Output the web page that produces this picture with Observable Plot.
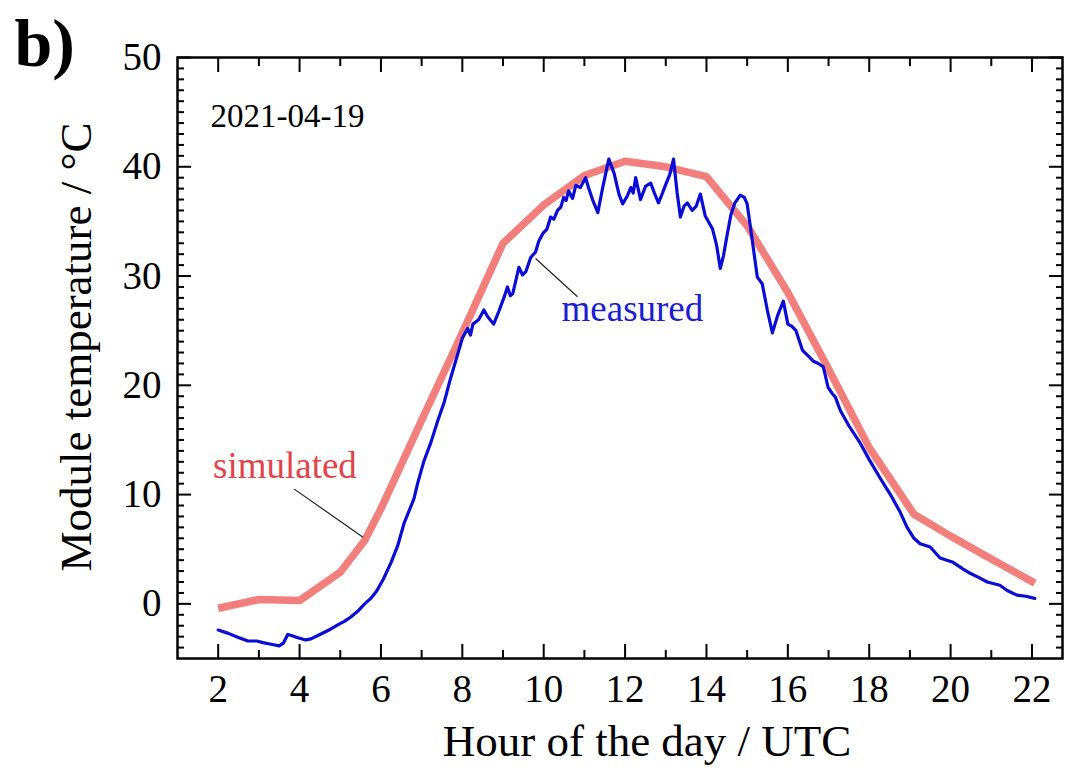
<!DOCTYPE html>
<html>
<head>
<meta charset="utf-8">
<script src="https://cdn.jsdelivr.net/npm/d3@7"></script>
<script src="https://cdn.jsdelivr.net/npm/@observablehq/plot@0.6"></script>
<style>
  html, body { margin: 0; padding: 0; background: #ffffff; }
  #chart svg { display: block; }
</style>
</head>
<body>
<div id="chart"></div>
<script>
// ---- Data ----
const simHour = [2, 3, 4, 5, 5.6, 6, 7, 8, 9, 10, 11, 12, 13, 14, 15, 16, 17, 18, 19.1, 20, 21, 22.07];
const simTemp = [-0.4, 0.4, 0.3, 2.9, 5.8, 8.7, 16.8, 24.8, 33.0, 36.5, 39.2, 40.5, 40.0, 39.1, 34.6, 28.5, 21.5, 14.3, 8.2, 6.2, 4.1, 1.9];

const measHour = [2.00, 2.25, 2.48, 2.73, 2.95, 3.10, 3.30, 3.50, 3.60, 3.71, 3.80, 3.96, 4.15, 4.28, 4.50, 4.77, 4.95, 5.10, 5.26, 5.45,
  5.60, 5.75, 5.90, 6.05, 6.25, 6.41, 6.57, 6.81, 6.90, 7.05, 7.23, 7.40, 7.55, 7.70, 7.89, 8.00, 8.13, 8.20, 8.26, 8.40,
  8.53, 8.62, 8.77, 8.90, 9.02, 9.11, 9.18, 9.24, 9.39, 9.48, 9.56, 9.68, 9.80, 9.88, 9.98, 10.08, 10.17, 10.25, 10.34, 10.42,
  10.49, 10.55, 10.61, 10.71, 10.79, 10.90, 11.03, 11.10, 11.20, 11.33, 11.45, 11.60, 11.73, 11.85, 11.94, 12.05, 12.14, 12.20, 12.26, 12.38,
  12.50, 12.63, 12.72, 12.82, 12.92, 12.99, 13.10, 13.19, 13.28, 13.36, 13.45, 13.53, 13.65, 13.75, 13.85, 13.97, 14.15, 14.25, 14.34, 14.42,
  14.51, 14.60, 14.70, 14.83, 14.93, 15.00, 15.08, 15.15, 15.25, 15.37, 15.50, 15.62, 15.75, 15.89, 16.00, 16.10, 16.20, 16.36, 16.50, 16.63,
  16.75, 16.87, 16.99, 17.08, 17.17, 17.29, 17.50, 17.78, 18.00, 18.27, 18.52, 18.76, 18.93, 19.10, 19.25, 19.50, 19.74, 20.06, 20.30, 20.48,
  20.70, 20.90, 21.21, 21.40, 21.63, 21.85, 22.07];
const measTemp = [-2.4, -2.7, -3.05, -3.4, -3.4, -3.55, -3.7, -3.85, -3.6, -2.8, -2.9, -3.1, -3.3, -3.2, -2.8, -2.3, -1.9, -1.6, -1.2, -0.6,
  0.0, 0.5, 1.2, 2.2, 3.8, 5.3, 7.4, 9.6, 11.0, 13.0, 14.8, 16.8, 18.4, 20.5, 22.9, 24.3, 25.2, 24.6, 25.6, 26.0,
  26.9, 26.3, 25.6, 26.8, 28.0, 29.0, 28.2, 28.4, 30.8, 30.1, 30.4, 31.7, 32.2, 33.2, 33.9, 34.3, 35.4, 35.2, 36.0, 36.3,
  37.2, 36.9, 37.8, 37.1, 38.3, 38.1, 39.0, 38.1, 37.0, 35.8, 38.1, 40.7, 39.4, 37.5, 36.6, 37.3, 38.1, 37.6, 39.0, 37.0,
  38.2, 38.5, 37.6, 36.7, 37.6, 38.3, 39.3, 40.7, 37.6, 35.4, 36.4, 36.7, 36.0, 36.4, 37.5, 35.5, 34.3, 32.8, 30.7, 31.9,
  33.8, 35.6, 36.7, 37.4, 37.2, 36.6, 34.5, 32.6, 29.9, 29.3, 26.8, 24.8, 26.4, 27.7, 25.6, 25.4, 25.0, 23.2, 22.7, 22.2,
  22.0, 21.7, 19.8, 19.3, 18.9, 17.7, 16.3, 14.7, 13.2, 11.5, 10.0, 8.4, 7.0, 6.0, 5.5, 5.2, 4.2, 3.8, 3.2, 2.8,
  2.4, 2.0, 1.7, 1.2, 0.8, 0.7, 0.5];

const xMajorTicks = [2, 4, 6, 8, 10, 12, 14, 16, 18, 20, 22];
const xMinorTicks = [3, 5, 7, 9, 11, 13, 15, 17, 19, 21];
const yMajorTicks = [0, 10, 20, 30, 40, 50];
const yMinorTicks = [-4, -3, -2, -1, 1, 2, 3, 4, 5, 6, 7, 8, 9, 11, 12, 13, 14, 15, 16, 17, 18, 19,
  21, 22, 23, 24, 25, 26, 27, 28, 29, 31, 32, 33, 34, 35, 36, 37, 38, 39, 41, 42, 43, 44, 45, 46, 47, 48, 49];

const seriesNames = ["simulated", "measured"];
const labelHour = [3.64, 12.18];
const labelTemp = [12.6, 27.0];
const leaderHourFrom = [3.87, 9.80];
const leaderTempFrom = [10.5, 31.6];
const leaderHourTo = [5.56, 10.83];
const leaderTempTo = [6.1, 28.1];

const dateText = "2021-04-19";
const panelText = "b)";
const xTitle = "Hour of the day / UTC";
const yTitle = "Module temperature / °C";

// ---- Build tables ----
const sim = simHour.map((h, i) => ({h, t: simTemp[i]}));
const meas = measHour.map((h, i) => ({h, t: measTemp[i]}));
const leaders = leaderHourFrom.map((h, i) => ({x1: h, y1: leaderTempFrom[i], x2: leaderHourTo[i], y2: leaderTempTo[i]}));

const serif = "'Liberation Serif', 'Times New Roman', 'DejaVu Serif', serif";
const simColor = "#f27f7c";
const simTextColor = "#e0444a";
const measColor = "#0b0bd6";
const measTextColor = "#1c1cd0";

const tickCommon = {fill: "none", label: null, strokeWidth: 2};

const chart = Plot.plot({
  width: 1079,
  height: 781,
  marginTop: 57,
  marginBottom: 123,
  marginLeft: 177,
  marginRight: 17,
  x: {domain: [1, 22.75], label: null},
  y: {domain: [-5, 50], label: null},
  style: {fontFamily: serif, background: "white", color: "black"},
  marks: [
    Plot.line(sim, {x: "h", y: "t", stroke: simColor, strokeWidth: 7.5, strokeLinejoin: "round", strokeLinecap: "butt"}),
    Plot.line(meas, {x: "h", y: "t", stroke: measColor, strokeWidth: 3.2, strokeLinejoin: "round"}),
    Plot.link(leaders, {x1: "x1", y1: "y1", x2: "x2", y2: "y2", stroke: "#222", strokeWidth: 1.2}),
    Plot.text([seriesNames[0]], {x: () => labelHour[0], y: () => labelTemp[0], text: d => d, fill: simTextColor, fontSize: 37}),
    Plot.text([seriesNames[1]], {x: () => labelHour[1], y: () => labelTemp[1], text: d => d, fill: measTextColor, fontSize: 37}),
    Plot.text([dateText], {frameAnchor: "top-left", text: d => d, textAnchor: "start", dx: 33, dy: 46, fontSize: 33}),
    Plot.text([panelText], {frameAnchor: "top-left", text: d => d, textAnchor: "start", dx: -163, dy: -40, fontSize: 68, fontWeight: "bold"}),
    Plot.text([xTitle], {frameAnchor: "bottom", text: d => d, textAnchor: "middle", dx: 27, dy: 97, fontSize: 45}),
    Plot.text([yTitle], {frameAnchor: "left", text: d => d, textAnchor: "middle", rotate: -90, dx: -101, dy: -11, fontSize: 45}),

    // tick labels
    Plot.axisX({anchor: "bottom", ticks: xMajorTicks, tickSize: 0, tickPadding: 16, fontSize: 39, label: null, tickFormat: d => String(d)}),
    Plot.axisY({anchor: "left", ticks: yMajorTicks, tickSize: 0, tickPadding: 16, fontSize: 39, label: null, tickFormat: d => String(d)}),

    // inward ticks on all four sides
    Plot.axisX({anchor: "bottom", ticks: xMajorTicks, tickSize: -14, ...tickCommon}),
    Plot.axisX({anchor: "bottom", ticks: xMinorTicks, tickSize: -8, ...tickCommon}),
    Plot.axisX({anchor: "top", ticks: xMajorTicks, tickSize: -14, ...tickCommon}),
    Plot.axisX({anchor: "top", ticks: xMinorTicks, tickSize: -8, ...tickCommon}),
    Plot.axisY({anchor: "left", ticks: yMajorTicks, tickSize: -14, ...tickCommon}),
    Plot.axisY({anchor: "left", ticks: yMinorTicks, tickSize: -7, ...tickCommon}),
    Plot.axisY({anchor: "right", ticks: yMajorTicks, tickSize: -14, ...tickCommon}),
    Plot.axisY({anchor: "right", ticks: yMinorTicks, tickSize: -7, ...tickCommon}),

    Plot.frame({strokeWidth: 2.5, stroke: "black"})
  ]
});

document.getElementById("chart").appendChild(chart);
</script>
</body>
</html>
